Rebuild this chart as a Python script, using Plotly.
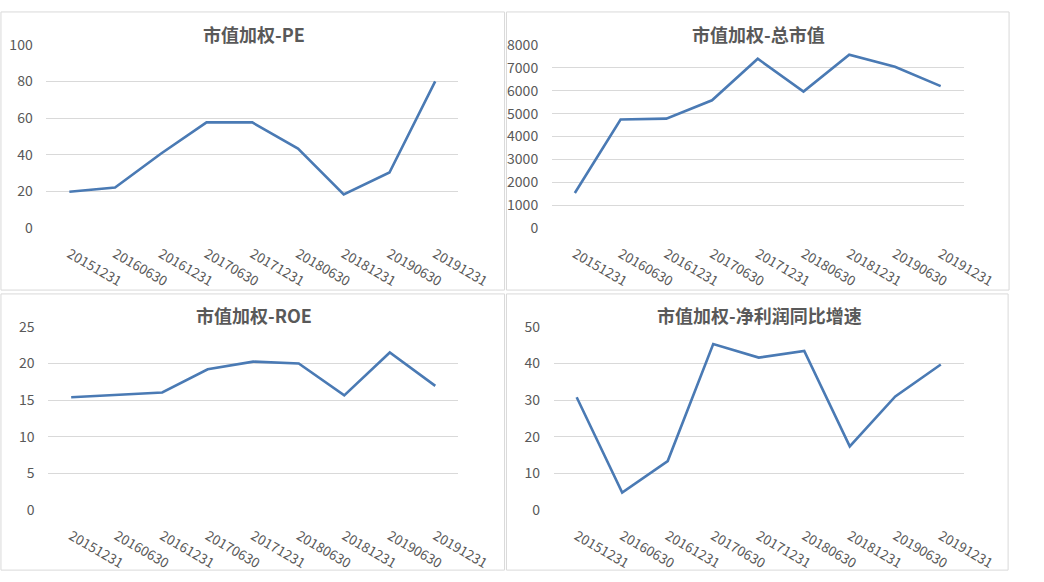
import plotly.graph_objects as go

W, H = 1044, 582

dates = ["20151231", "20160630", "20161231", "20170630", "20171231",
         "20180630", "20181231", "20190630", "20191231"]

pe = [19.9, 22.2, 40.6, 57.7, 57.7, 43.4, 18.4, 30.4, 80.1]
mkt_cap = [1540, 4740, 4780, 5580, 7390, 5960, 7570, 7040, 6200]
roe = [15.4, 15.7, 16.05, 19.2, 20.25, 20.0, 15.65, 21.5, 16.95]
np_growth = [30.8, 4.8, 13.4, 45.3, 41.6, 43.4, 17.4, 31.0, 39.7]

titles = ["市值加权-PE", "市值加权-总市值", "市值加权-ROE", "市值加权-净利润同比增速"]
series = [pe, mkt_cap, roe, np_growth]
y_ranges = [(0, 100, 20), (0, 8000, 1000), (0, 25, 5), (0, 50, 10)]

LINE = "#4a7ab4"
GRID = "#d9d9d9"
TXT = "#595959"
FONT = "Noto Sans CJK SC"


def px_x(v):
    return v / W


def px_y(v):
    return 1 - v / H


# plot areas in pixels: (left, right, top, bottom)
areas = [(48, 473, 35, 225), (570, 995, 35, 225),
         (50, 473, 327, 517), (572, 995, 327, 517)]
# panel frames in pixels
frames = [(1, 521, 1, 289), (523, 1042, 1, 289),
          (1, 521, 293, 579), (523, 1041, 293, 579)]
title_pos = [(262, 24), (783, 24), (262, 315), (784, 315)]

fig = go.Figure()
layout = dict(
    autosize=True,
    margin=dict(l=0, r=0, t=0, b=0),
    paper_bgcolor="white", plot_bgcolor="white",
    showlegend=False,
    font=dict(family=FONT, color=TXT, size=14),
    shapes=[], annotations=[],
)

for i, (vals, (lo, hi, step)) in enumerate(zip(series, y_ranges)):
    n = "" if i == 0 else str(i + 1)
    fig.add_trace(go.Scatter(
        x=dates, y=vals, mode="lines",
        line=dict(color=LINE, width=2.6),
        xaxis="x" + n, yaxis="y" + n,
        hoverinfo="x+y",
    ))
    l, r, t, b = areas[i]
    layout["xaxis" + n] = dict(
        domain=[px_x(l), px_x(r)], anchor="y" + n,
        type="category", tickangle=30, range=[-0.5, len(dates) - 0.5],
        showgrid=False, zeroline=False, showline=False,
        ticks="outside", ticklen=12, tickcolor="rgba(0,0,0,0)",
        tickfont=dict(size=13.5, color=TXT),
    )
    layout["yaxis" + n] = dict(
        domain=[px_y(b), px_y(t)], anchor="x" + n,
        range=[lo, hi], dtick=step, tick0=0,
        showgrid=True, gridcolor=GRID, gridwidth=1,
        zeroline=False, showline=False,
        ticks="outside", ticklen=10, tickcolor="rgba(0,0,0,0)",
        tickfont=dict(size=14, color=TXT),
    )
    fl, fr, ft, fb = frames[i]
    layout["shapes"].append(dict(
        type="rect", xref="paper", yref="paper",
        x0=px_x(fl), x1=px_x(fr), y0=px_y(fb), y1=px_y(ft),
        line=dict(color=GRID, width=1), layer="below",
    ))
    tx, ty = title_pos[i]
    layout["annotations"].append(dict(
        text="<b>" + titles[i] + "</b>", xref="paper", yref="paper",
        x=px_x(tx), y=px_y(ty), xanchor="center", yanchor="middle",
        showarrow=False, font=dict(family=FONT, size=18, color=TXT),
    ))

fig.update_layout(**layout)

# fill the browser window, no page margin, no modebar
fig.write_html(
    "out.html",
    default_width="100vw",
    default_height="100vh",
    config={"displayModeBar": False},
    post_script="document.body.style.margin='0';document.body.style.overflow='hidden';",
)
